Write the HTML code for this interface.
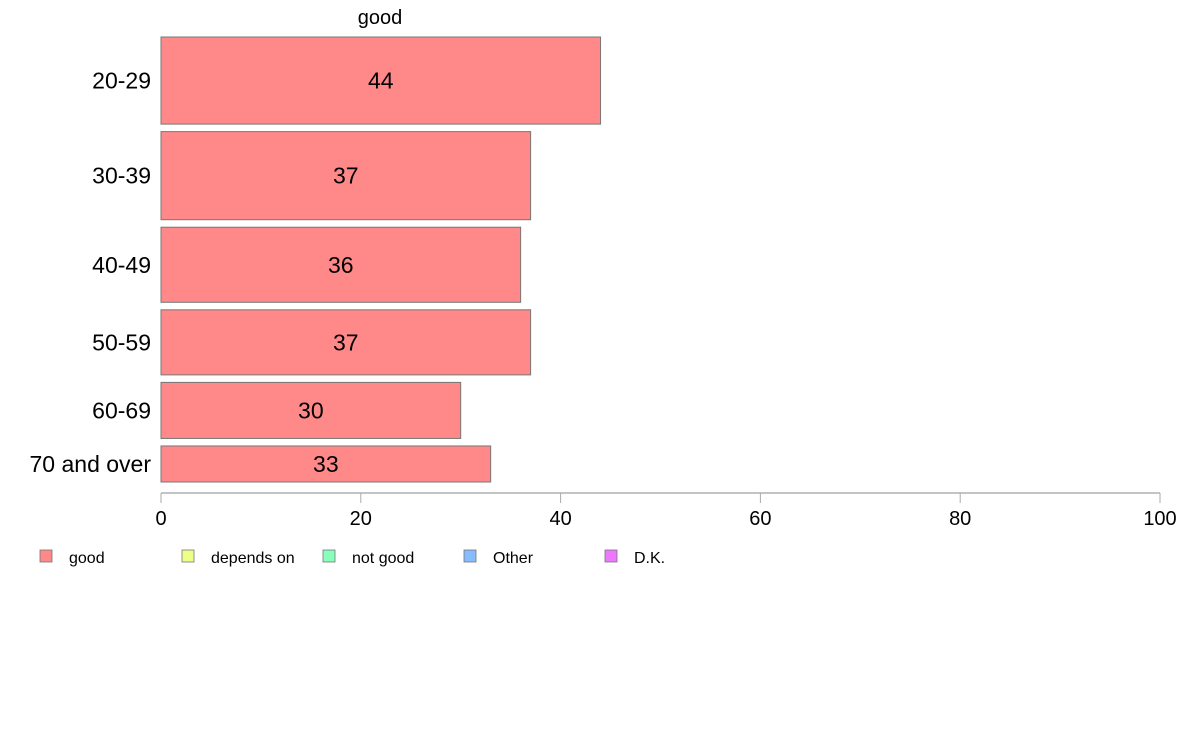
<!DOCTYPE html>
<html><head><meta charset="utf-8"><style>
body{margin:0;background:#fff;width:1188px;height:736px;overflow:hidden}
text{font-family:"Liberation Sans",Arial,sans-serif}
</style></head><body>
<svg id="chart" width="1188" height="736" xmlns="http://www.w3.org/2000/svg"></svg>
<script>
const categories = ["20-29","30-39","40-49","50-59","60-69","70 and over"];
const values = [44, 37, 36, 37, 30, 33];
const weights = [87, 88, 75, 65, 56, 36];
const ticks = [0, 20, 40, 60, 80, 100];
const legendLabels = ["good","depends on","not good","Other","D.K."];
const legendColors = ["#ff8888","#eeff88","#88ffbb","#88bbff","#ee77ff"];

const NS = "http://www.w3.org/2000/svg";
const svg = document.getElementById("chart");
const x0 = 161, x1 = 1160, yTop = 37, yBot = 482, gap = 7.5;
const xs = v => x0 + (v / 100) * (x1 - x0);
function mk(tag, attrs, txt){const e=document.createElementNS(NS,tag);for(const k in attrs)e.setAttribute(k,attrs[k]);if(txt!==undefined)e.textContent=txt;svg.appendChild(e);return e;}

const t = mk("text",{x:380,y:24,"font-size":20,"text-anchor":"middle",fill:"#000"},"good");



const totalW = weights.reduce((a,b)=>a+b,0);
const avail = (yBot - yTop) - gap*(categories.length-1);
let y = yTop;
categories.forEach((c,i)=>{
  const h = weights[i]/totalW*avail;
  const r = mk("rect",{x:x0,y:y,width:xs(values[i])-x0,height:h,fill:"#ff8888",stroke:"#777","stroke-width":1});
  
  
  const vl = mk("text",{x:(x0+xs(values[i]))/2,y:y+h/2+8,"font-size":23,"text-anchor":"middle",fill:"#000"},String(values[i]));
  
  
  const cl = mk("text",{x:151,y:y+h/2+8,"font-size":23,"text-anchor":"end",fill:"#000"},c);
  
  
  y += h + gap;
});

const ax = mk("line",{x1:x0,x2:x1,y1:493,y2:493,stroke:"#888","stroke-width":1});


ticks.forEach(v=>{
  const tl = mk("line",{x1:xs(v),x2:xs(v),y1:493,y2:503,stroke:"#aaa","stroke-width":1});
  
  
  const tt = mk("text",{x:xs(v),y:525,"font-size":20,"text-anchor":"middle",fill:"#000"},String(v));
  
  
});

const legX = [40,182,323,464,605];
legendLabels.forEach((l,i)=>{
  const sq = mk("rect",{x:legX[i],y:550,width:12,height:12,fill:legendColors[i],stroke:"#777","stroke-width":0.8});
  
  
  const lt = mk("text",{x:legX[i]+29,y:563,"font-size":16,fill:"#000"},l);
  
  
});
</script>
</body></html>
